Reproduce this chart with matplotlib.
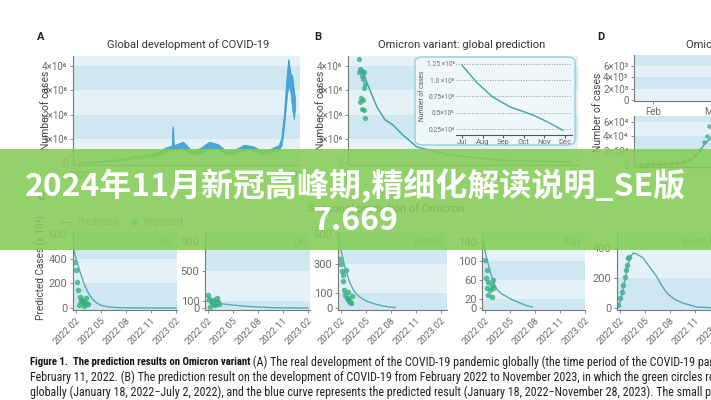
import matplotlib
matplotlib.use("Agg")
import matplotlib.pyplot as plt
from matplotlib.patches import Rectangle, FancyBboxPatch

# ---------------- data ----------------
# A: global daily cases (millions); month 0 = Jan 2020
a_month = [0, 1, 2, 3, 4, 5, 6, 7, 8, 9, 10, 10.5, 10.7, 10.8, 10.9, 11, 12, 13, 14, 15,
           16, 17, 18, 19, 20, 21, 22, 23, 23.3, 23.6, 23.9, 24.1, 24.3, 24.5, 24.7, 24.85]
a_low = [0.0, 0.0, 0.03, 0.06, 0.08, 0.12, 0.18, 0.22, 0.25, 0.32, 0.45, 0.52, 0.55, 0.56, 0.55,
         0.55, 0.58, 0.36, 0.42, 0.62, 0.56, 0.35, 0.40, 0.56, 0.50, 0.38, 0.42, 0.55, 0.75, 1.6,
         2.8, 3.2, 2.9, 2.2, 1.8, 2.3]
a_high = [0.01, 0.02, 0.06, 0.09, 0.11, 0.17, 0.25, 0.29, 0.33, 0.43, 0.62, 0.68, 0.66, 1.50, 0.68,
          0.72, 0.86, 0.48, 0.60, 0.86, 0.76, 0.46, 0.54, 0.73, 0.68, 0.50, 0.56, 0.72, 1.0, 2.0,
          3.5, 4.25, 3.7, 3.6, 3.0, 2.6]
a_xticks = [0, 12, 24]
a_xlabels = ["2020", "2021", "2022"]

# B: Omicron global prediction (millions); month 0 = Jan 2022
b_dot_m = [0.89, 1.0, 1.21, 1.43, 0.89, 1.21, 1.32, 1.54, 1.43, 1.1, 1.32, 1.0, 1.43, 1.21, 1.54]
b_dot_v = [4.29, 3.88, 3.8, 3.75, 3.75, 3.6, 3.45, 3.25, 3.1, 2.7, 2.6, 2.5, 2.2, 2.22, 1.85]
b_curve_m = [1.21, 1.75, 2.84, 3.70, 4.56, 5.65, 7.16, 10.7, 16.1, 23.7]
b_curve_v = [3.9, 3.3, 2.3, 1.78, 1.57, 1.15, 0.66, 0.33, 0.12, 0.04]
inset_m = [7.0, 7.73, 8.5, 9.33, 10.45, 11.2, 11.9]
inset_v = [1.23, 0.96, 0.74, 0.59, 0.465, 0.35, 0.23]
inset_months = ["Jul", "Aug", "Sep", "Oct", "Nov", "Dec"]

# D: (partly visible) ; x in months of 2022
d_line_m = [1.75, 2.2, 2.5, 2.6, 2.7, 2.78, 2.85, 2.95, 3.05, 3.2, 3.45]
d_line_v = [0.05, 0.1, 0.3, 0.6, 1.2, 2.0, 2.8, 3.7, 4.3, 4.9, 5.3]
d_dot_m = [1.8, 1.9, 2.0, 2.1, 2.2, 2.3, 2.4, 2.5, 2.6, 2.7, 2.78, 2.85, 2.9, 2.93]
d_dot_v = [0.05, 0.06, 0.08, 0.1, 0.12, 0.2, 0.3, 0.5, 0.8, 1.4, 2.1, 3.2, 4.0, 5.4]

# C: seasonal prediction per country (x 10^3); month 1 = 2022.02
countries = ["US", "UK", "France", "Italy", "South Korea"]
c_curve_m = {
    "US": [0.7, 1.0, 1.5, 2.0, 2.5, 3.0, 3.5, 4.0, 5.0, 6.0, 8.0, 13.0],
    "UK": [0.7, 1.24, 2.0, 3.0, 4.0, 5.0, 6.0, 7.24, 8.5, 10.0, 13.0],
    "France": [0.7, 1.0, 1.5, 2.0, 2.5, 3.0, 3.5, 4.0, 5.0, 6.0, 7.0, 7.5],
    "Italy": [0.7, 1.0, 1.5, 2.0, 2.5, 3.0, 4.0, 5.0, 6.0, 6.7],
    "South Korea": [0.76, 1.0, 1.3, 1.6, 1.9, 2.2, 2.56, 3.0, 3.76, 4.6, 5.44, 6.0, 6.64, 7.5,
                    8.56, 10.2, 12.0, 15.0],
}
c_curve_v = {
    "US": [480, 400, 290, 190, 120, 70, 40, 22, 8, 3, 1, 0],
    "UK": [100, 80, 68, 52, 40, 28, 19, 12, 5, 2, 0],
    "France": [470, 390, 270, 180, 120, 85, 65, 48, 28, 14, 6, 3],
    "Italy": [150, 120, 85, 55, 38, 30, 20, 12, 5, 2],
    "South Korea": [5, 40, 110, 190, 270, 335, 367, 360, 335, 270, 207, 150, 100, 60, 33, 7, 2, 0],
}
c_dot_m = {
    "US": [0.88, 1.0, 1.12, 1.24, 1.36, 1.48, 1.6, 1.72, 1.84, 1.96, 2.08, 2.2, 2.32, 2.44],
    "UK": [1.0, 1.12, 1.24, 1.36, 1.48, 1.6, 1.72, 1.84, 1.96, 2.08, 2.2, 2.32],
    "France": [0.9, 1.0, 1.1, 1.2, 1.3, 1.4, 1.5, 1.6, 1.7, 1.8, 1.9, 2.0, 2.1, 2.2, 2.3],
    "Italy": [0.76, 1.0, 1.24, 1.12, 1.36, 1.84, 1.96, 1.6, 1.84, 1.36, 1.24, 1.96],
    "South Korea": [0.76, 1.0, 1.24, 1.36, 1.6, 1.72, 1.84, 1.96, 2.08],
}
c_dot_v = {
    "US": [373, 308, 210, 146, 25, 90, 60, 65, 45, 16, 40, 80, 30, 32],
    "UK": [175, 120, 13, 90, 67, 108, 50, 40, 85, 134, 80, 60],
    "France": [330, 300, 250, 220, 180, 120, 90, 260, 70, 60, 110, 50, 40, 35, 80],
    "Italy": [134, 102, 81, 64, 55, 49, 59, 38, 23, 28, 42, 42],
    "South Korea": [20, 67, 107, 153, 207, 253, 287, 333, 340],
}
c_yticks = {
    "US": [0, 200, 400, 600],
    "UK": [0, 100, 500, 900],
    "France": [0, 100, 300, 500],
    "Italy": [0, 20, 60, 100, 140],
    "South Korea": [0, 200, 400],
}
c_xticks = [1, 4, 7, 10, 13]
c_xlabels = ["2022.02", "2022.05", "2022.08", "2022.11", "2023.02"]

# ---------------- style ----------------
W, H = 711, 400
LIGHT = "#e4f2f8"
DARK = "#cfe7f1"
GREY = "#6b6b6b"
BLUE = "#3c9fd2"
TEAL = "#4b9fae"
GREEN = "#35b07f"

plt.rcParams['font.family'] = ['Roboto', 'DejaVu Sans']
fig = plt.figure(figsize=(W / 100, H / 100), dpi=100)
fig.patch.set_facecolor("white")


def box(l, t, r, b):
    return fig.add_axes([l / W, 1 - b / H, (r - l) / W, (b - t) / H])


def ftext(x, y, s, **kw):
    return fig.text(x / W, 1 - y / H, s, **kw)


def style(ax, ylim, yticks, ylabels, dark, size=7):
    ax.set_ylim(*ylim)
    ax.set_facecolor(LIGHT)
    for lo, hi in dark:
        ax.axhspan(lo, hi, color=DARK, lw=0, zorder=0)
    for s in ["top", "right"]:
        ax.spines[s].set_visible(False)
    for s in ["left", "bottom"]:
        ax.spines[s].set_color("#777777")
        ax.spines[s].set_linewidth(0.8)
    ax.set_yticks(yticks)
    ax.set_yticklabels(ylabels, family=['Roboto', 'DejaVu Sans'])
    ax.tick_params(colors="#777777", labelcolor=GREY, labelsize=size, length=2, width=0.6, pad=2)


mil = ["0", "1×10⁶", "2×10⁶", "3×10⁶", "4×10⁶"]

# ---------------- panel A ----------------
ftext(37, 37, "A", fontsize=8, fontweight="bold", color="#222222", va="center")
ftext(188, 45, "Global development of COVID-19", fontsize=8, color="#333333", ha="center", va="center")
axA = box(73, 56, 300, 165)
style(axA, (-0.08, 4.41), [0, 1, 2, 3, 4], mil, [(3, 4), (1, 2)])
axA.fill_between(a_month, a_low, a_high, color=BLUE, lw=0.6, alpha=0.9)
axA.plot(a_month, a_high, color=BLUE, lw=0.6)
axA.set_xlim(-0.7, 25.4)
axA.set_xticks(a_xticks)
axA.set_xticklabels(a_xlabels)
ftext(46, 110, "Number of cases", rotation=90, fontsize=7.5, color="#444444", ha="center", va="center")

# ---------------- panel B ----------------
ftext(314, 37, "B", fontsize=8, fontweight="bold", color="#222222", va="center")
ftext(462, 45, "Omicron variant: global prediction", fontsize=8, color="#333333", ha="center", va="center")
axB = box(348, 56, 578, 165)
style(axB, (-0.08, 4.41), [0, 1, 2, 3, 4], mil, [(3, 4), (1, 2)])
axB.plot(b_curve_m, b_curve_v, color=TEAL, lw=1.1)
axB.scatter(b_dot_m, b_dot_v, s=14, color=GREEN, alpha=0.8, lw=0)
axB.set_xlim(-0.3, 24.56)
axB.set_xticks([])
ftext(321, 110, "Number of cases", rotation=90, fontsize=7.5, color="#444444", ha="center", va="center")

inset_bg = FancyBboxPatch((415 / W, 1 - 145 / H), 160 / W, 88 / H,
                          boxstyle="round,pad=0,rounding_size=0.012",
                          transform=fig.transFigure, facecolor="#eef7fa",
                          edgecolor="#9ccadb", lw=1.0, zorder=1)
fig.add_artist(inset_bg)
axI = box(456, 60, 572, 135)
axI.set_zorder(2)
axI.patch.set_alpha(0)
axI.plot(inset_m, inset_v, color=TEAL, lw=1.0)
axI.set_xlim(6.71, 12.34)
axI.set_ylim(0.158, 1.31)
axI.set_yticks([0.25, 0.5, 0.75, 1.0, 1.25])
axI.set_yticklabels(["0.25×10⁶", "0.5×10⁶", "0.75×10⁶", "1.0 ×10⁶", "1.25 ×10⁶"])
axI.set_xticks([7, 8, 9, 10, 11, 12])
axI.set_xticklabels(inset_months)
axI.grid(axis="y", ls=":", color="#8a9aa0", lw=0.7)
for s in ["top", "right", "left"]:
    axI.spines[s].set_visible(False)
axI.spines["bottom"].set_color("#555555")
axI.tick_params(axis="y", length=0, labelsize=4.8, labelcolor=GREY, pad=1)
axI.tick_params(axis="x", length=2, labelsize=5.5, labelcolor=GREY, pad=1, color="#555555")
ftext(423, 96, "Number of cases", rotation=90, fontsize=4.8, color="#555555", ha="center", va="center")

# ---------------- panel D ----------------
ftext(597, 37, "D", fontsize=8, fontweight="bold", color="#222222", va="center")
ftext(686, 45, "Omicron variant: regional prediction", fontsize=8, color="#333333", ha="left", va="center")
axD1 = box(634, 55, 740, 101)
style(axD1, (-0.18, 7.94), [0, 2, 4, 6], ["0", "2×10³", "4×10³", "6×10³"], [(6, 7.94), (2, 4)])
axD1.set_xlim(1.68, 3.45)
axD1.set_xticks([2, 3])
axD1.set_xticklabels(["Feb", "Mar"])
axD2 = box(634, 116, 740, 167)
style(axD2, (-0.28, 6.84), [0, 2, 4, 6], ["0", "2×10⁴", "4×10⁴", "6×10⁴"], [(6, 6.84), (2, 4)])
axD2.plot(d_line_m, d_line_v, color=TEAL, lw=1.0)
axD2.scatter(d_dot_m, d_dot_v, s=10, color=GREEN, alpha=0.8, lw=0)
axD2.set_xlim(1.68, 3.45)
axD2.set_xticks([])
ftext(598, 112, "Number of cases", rotation=90, fontsize=7.5, color="#444444", ha="center", va="center")

# ---------------- panel C ----------------
ftext(37, 197, "C", fontsize=8, fontweight="bold", color="#222222", va="center")
ftext(386, 209, "Seasonal prediction of Omicron", fontsize=8, color="#333333", ha="center", va="center")
c_boxes = {"US": (73, 177), "UK": (205, 310), "France": (338, 447), "Italy": (482, 585),
           "South Korea": (617, 740)}
c_ylims = {"US": (-16, 616), "UK": (-27, 1021), "France": (-13.5, 513.5), "Italy": (-4.2, 161),
           "South Korea": (-13, 507)}
c_dark = {"US": [(400, 616), (-16, 200)], "UK": [(500, 1021), (-27, 100)],
          "France": [(300, 513.5), (-13.5, 100)], "Italy": [(140, 161), (60, 100), (-4.2, 20)],
          "South Korea": [(400, 507), (-13, 200)]}
handles = None
for c in countries:
    l, r = c_boxes[c]
    ax = box(l, 232, r, 310)
    yt = c_yticks[c]
    style(ax, c_ylims[c], yt, [str(v) for v in yt], c_dark[c], size=8)
    ln, = ax.plot(c_curve_m[c], c_curve_v[c], color="#5aa7b6", lw=1.0)
    sc = ax.scatter(c_dot_m[c], c_dot_v[c], s=16, color=GREEN, alpha=0.8, lw=0)
    ax.set_xlim(0.64, 0.64 + (r - l) / 8.33)
    ax.set_xticks(c_xticks)
    ax.set_xticklabels(c_xlabels, rotation=45, ha="right", va="top", rotation_mode="anchor", fontsize=6.8)
    ax.text(0.96, 0.87, c, transform=ax.transAxes, ha="right", va="center", fontsize=7, color="#8a8a8a")
    if handles is None:
        handles = [ln, sc]
fig.legend(handles, ["Predicted", "Reported"], loc="center left", bbox_to_anchor=(52 / W, 1 - 222 / H),
           ncol=2, frameon=False, fontsize=7, handlelength=1.2, handletextpad=0.4, columnspacing=1.0,
           labelcolor="#888888")
ftext(41, 268, "Predicted Cases (x 10³)", rotation=90, fontsize=7.2, color="#444444", ha="center", va="center")

# ---------------- caption ----------------
cap_font = ['Roboto Condensed', 'Liberation Sans Narrow', 'Roboto', 'DejaVu Sans']
renderer = fig.canvas.get_renderer()
# size the caption font so the second line runs as wide as in the reference
ref_str = ("February 11, 2022. (B) The prediction result on the development of COVID-19 from "
           "February 2022 to November 2023, in which the green circles")
probe = ftext(0, 0, ref_str, fontsize=10, family=cap_font)
cap_size = 10 * 668 / probe.get_window_extent(renderer).width
probe.remove()
bold_size = cap_size * 0.9

bold = ftext(30, 362, "Figure 1.  The prediction results on Omicron variant", fontsize=bold_size,
             fontweight="bold", family=cap_font, color="#111111", va="center")
bw = bold.get_window_extent(renderer).width
ftext(30 + bw, 362, " (A) The real development of the COVID-19 pandemic globally (the time period of the COVID-19 pandemic",
      fontsize=cap_size, family=cap_font, color="#222222", va="center")
cap_lines = [
    "February 11, 2022. (B) The prediction result on the development of COVID-19 from February 2022 to November 2023, in which the green circles represent",
    "globally (January 18, 2022\u2212July 2, 2022), and the blue curve represents the predicted result (January 18, 2022\u2212November 28, 2023). The small plot",
    "enlarged plot for the predicted result from July 2022 to November 2023. (C) The prediction results of Omicron variant in the United States, the United",
]
for i, s in enumerate(cap_lines):
    ftext(30, 377.5 + 15 * i, s, fontsize=cap_size, family=cap_font, color="#222222", va="center")

# ---------------- banner overlay ----------------
fig.add_artist(Rectangle((0, 1 - 250 / H), 1, 101 / H, transform=fig.transFigure,
                         facecolor="#84cc55", alpha=0.88, lw=0, zorder=10))
ban_font = ['Noto Sans CJK SC', 'DejaVu Sans']
ftext(355, 186, "2024年11月新冠高峰期,精细化解读说明_SE版", fontsize=23, fontweight="bold", family=ban_font,
      color="white", ha="center", va="center", zorder=11)
ftext(355, 221, "7.669", fontsize=23, fontweight="bold", family=ban_font,
      color="white", ha="center", va="center", zorder=11)

fig.savefig("out.png", dpi=100)
